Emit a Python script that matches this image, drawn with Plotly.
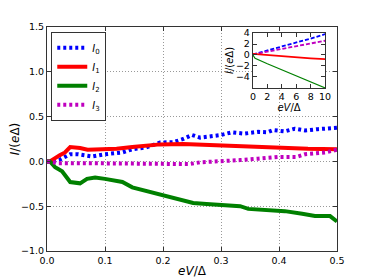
import plotly.graph_objects as go

# ---- main panel data ----
x_I0 = [0, 0.01, 0.022, 0.04, 0.054, 0.078, 0.1, 0.13, 0.147, 0.17, 0.195, 0.218, 0.235, 0.25, 0.264,
        0.284, 0.30, 0.319, 0.333, 0.34, 0.364, 0.38, 0.39, 0.41, 0.427, 0.445, 0.467, 0.5]
y_I0 = [0, 0, 0.02, 0.08, 0.08, 0.055, 0.08, 0.10, 0.135, 0.155, 0.21, 0.215, 0.25, 0.295, 0.265,
        0.28, 0.295, 0.325, 0.31, 0.31, 0.33, 0.325, 0.35, 0.335, 0.365, 0.345, 0.36, 0.375]

x_I1 = [0, 0.005, 0.022, 0.031, 0.04, 0.057, 0.07, 0.097, 0.12, 0.147, 0.17, 0.195, 0.235, 0.275,
        0.324, 0.36, 0.40, 0.45, 0.5]
y_I1 = [0, 0, 0.07, 0.10, 0.16, 0.15, 0.13, 0.13, 0.14, 0.16, 0.175, 0.19, 0.195, 0.185,
        0.165, 0.155, 0.145, 0.14, 0.135]

x_I2 = [0, 0.005, 0.014, 0.026, 0.04, 0.057, 0.069, 0.083, 0.1, 0.13, 0.147, 0.17, 0.195, 0.218,
        0.252, 0.275, 0.298, 0.315, 0.333, 0.347, 0.38, 0.41, 0.44, 0.462, 0.488, 0.5]
y_I2 = [0, 0, -0.065, -0.11, -0.23, -0.245, -0.195, -0.18, -0.195, -0.23, -0.29, -0.33, -0.375, -0.41,
        -0.465, -0.475, -0.485, -0.50, -0.50, -0.53, -0.54, -0.555, -0.585, -0.61, -0.61, -0.67]

x_I3 = [0, 0.02, 0.06, 0.1, 0.14, 0.17, 0.203, 0.246, 0.264, 0.30, 0.333, 0.364, 0.40, 0.43, 0.445, 0.48, 0.5]
y_I3 = [0, -0.02, -0.02, -0.02, -0.02, -0.02, -0.03, -0.03, -0.01, 0.0, 0.015, 0.03, 0.05, 0.05, 0.08, 0.10, 0.13]

# ---- inset data ----
xi = [0, 2, 4, 6, 8, 10]
yi_I0 = [0.1, 0.8, 1.5, 2.3, 3.0, 3.8]
yi_I3 = [0.1, 0.6, 1.1, 1.6, 2.1, 2.6]
yi_I1 = [0.2, 0.0, -0.3, -0.45, -0.6, -0.75]
xi_I2 = [0, 0.3, 2, 4, 6, 8, 10]
yi_I2 = [0, -0.6, -1.6, -2.7, -3.8, -4.9, -6.0]

main_ticks_y = [-1.0, -0.5, 0.0, 0.5, 1.0, 1.5]
main_ticks_x = [0.0, 0.1, 0.2, 0.3, 0.4, 0.5]
inset_ticks_y = [-4, -2, 0, 2, 4]
inset_ticks_x = [0, 2, 4, 6, 8, 10]

BLUE, RED, GREEN, MAG = "#0000ff", "#ff0000", "#008000", "#bf00bf"
names = ["<i>I</i><sub>0</sub>", "<i>I</i><sub>1</sub>", "<i>I</i><sub>2</sub>", "<i>I</i><sub>3</sub>"]

fig = go.Figure()
fig.add_trace(go.Scatter(x=x_I0, y=y_I0, mode="lines", name=names[0],
                         line=dict(color=BLUE, width=4, dash="3px,3px")))
fig.add_trace(go.Scatter(x=x_I1, y=y_I1, mode="lines", name=names[1],
                         line=dict(color=RED, width=4)))
fig.add_trace(go.Scatter(x=x_I2, y=y_I2, mode="lines", name=names[2],
                         line=dict(color=GREEN, width=4)))
fig.add_trace(go.Scatter(x=x_I3, y=y_I3, mode="lines", name=names[3],
                         line=dict(color=MAG, width=4, dash="3px,3px")))

# inset
fig.add_trace(go.Scatter(x=xi, y=yi_I0, mode="lines", xaxis="x2", yaxis="y2", showlegend=False,
                         line=dict(color=BLUE, width=1.8, dash="4px,2px")))
fig.add_trace(go.Scatter(x=xi, y=yi_I3, mode="lines", xaxis="x2", yaxis="y2", showlegend=False,
                         line=dict(color=MAG, width=1.8, dash="4px,2px")))
fig.add_trace(go.Scatter(x=xi, y=yi_I1, mode="lines", xaxis="x2", yaxis="y2", showlegend=False,
                         line=dict(color=RED, width=1.8)))
fig.add_trace(go.Scatter(x=xi_I2, y=yi_I2, mode="lines", xaxis="x2", yaxis="y2", showlegend=False,
                         line=dict(color=GREEN, width=1.2)))

FONT = "DejaVu Sans"
axis_common = dict(showline=True, mirror="ticks", linecolor="#333", linewidth=1.2,
                   ticks="inside", ticklen=4, tickcolor="#333", zeroline=False, automargin=False,
                   tickfont=dict(family=FONT, size=9.5, color="black"))

# the page body adds an 8px offset, so the figure is sized to fit the 374x280 window
fig.update_layout(
    width=366, height=272,
    margin=dict(l=39, r=37, t=19, b=29),
    paper_bgcolor="white", plot_bgcolor="white",
    font=dict(family=FONT, color="black"),
    xaxis=dict(range=[0, 0.5], tickvals=main_ticks_x, tickformat=".1f",
               showgrid=True, gridcolor="#999", griddash="1px,2px", gridwidth=1,
               title=dict(text="<i>eV</i>/Δ", font=dict(family=FONT, size=12), standoff=2),
               **axis_common),
    yaxis=dict(range=[-1.0, 1.5], tickvals=main_ticks_y, tickformat=".1f",
               showgrid=True, gridcolor="#999", griddash="1px,2px", gridwidth=1,
               title=dict(text="<i>I</i>/(<i>e</i>Δ)", font=dict(family=FONT, size=12), standoff=4),
               **axis_common),
    xaxis2=dict(domain=[0.71, 0.959], anchor="y2", range=[0, 10], tickvals=inset_ticks_x,
                showgrid=False,
                title=dict(text="<i>eV</i>/Δ", font=dict(family=FONT, size=10), standoff=0),
                **axis_common),
    yaxis2=dict(domain=[0.728, 0.973], anchor="x2", range=[-6, 4], tickvals=inset_ticks_y,
                showgrid=False,
                title=dict(text="<i>I</i>/(<i>e</i>Δ)", font=dict(family=FONT, size=10), standoff=0),
                **axis_common),
    legend=dict(x=0.014, y=0.978, xanchor="left", yanchor="top",
                bgcolor="white", bordercolor="#333", borderwidth=1.2,
                font=dict(family=FONT, size=10), tracegroupgap=0, itemwidth=30),
    showlegend=True,
)

fig.write_html("out.html")
